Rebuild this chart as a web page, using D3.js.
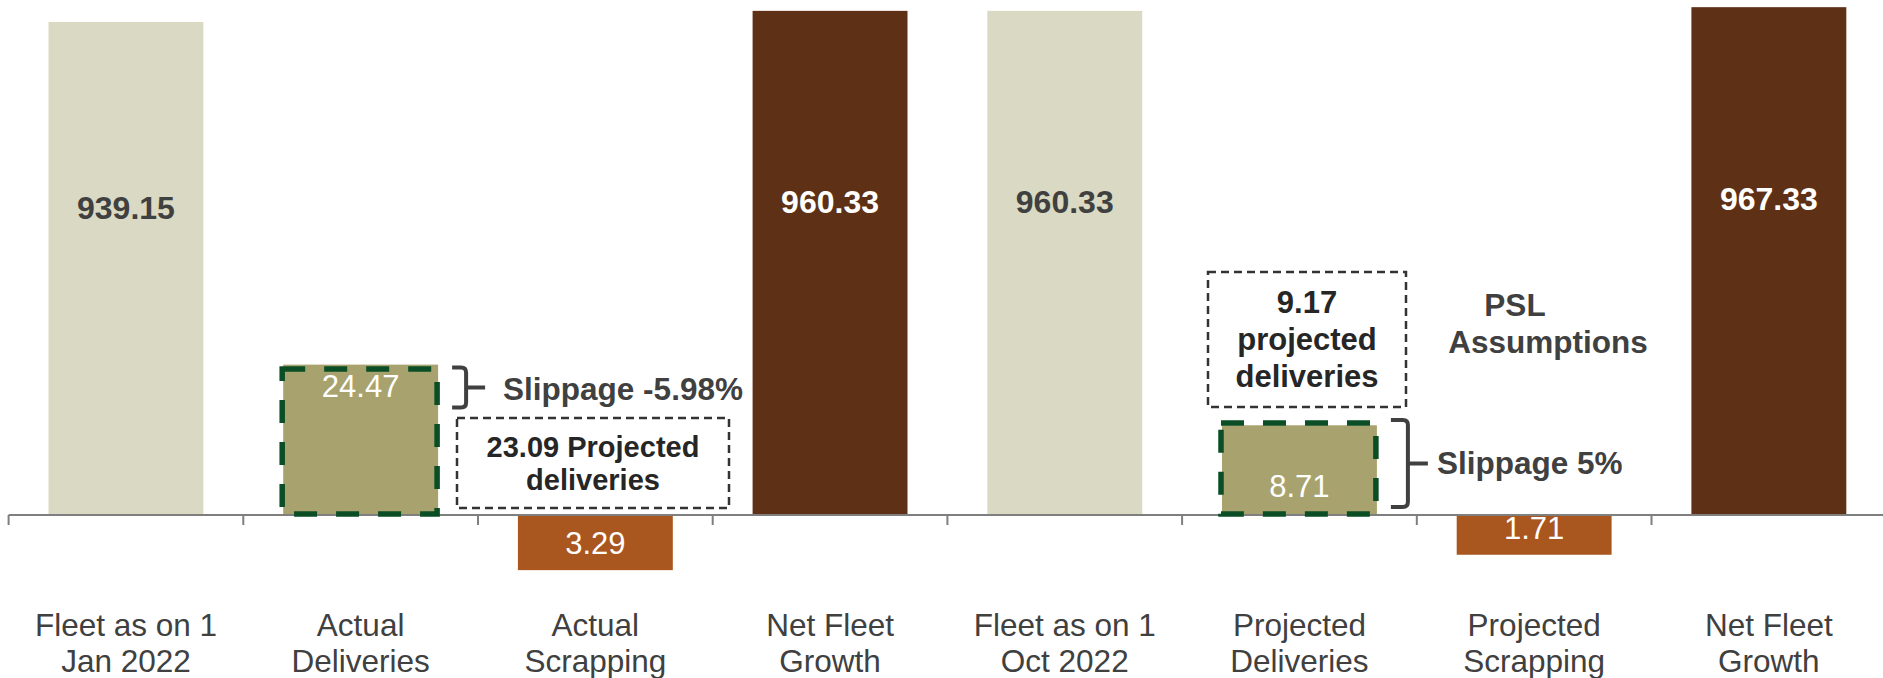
<!DOCTYPE html>
<html>
<head>
<meta charset="utf-8">
<script src="https://cdn.jsdelivr.net/npm/d3@7/dist/d3.min.js"></script>
<style>
  html, body { margin: 0; padding: 0; background: #ffffff; }
  svg { display: block; font-family: "Liberation Sans", Arial, Helvetica, sans-serif; }
</style>
</head>
<body>
<svg id="chart" width="1883" height="678"></svg>
<script>
// Fleet bridge: 1 Jan 2022 -> 1 Oct 2022 (actuals), then 1 Oct 2022 -> year end (projection)
const categories = [
  ["Fleet as on 1", "Jan 2022"],
  ["Actual", "Deliveries"],
  ["Actual", "Scrapping"],
  ["Net Fleet", "Growth"],
  ["Fleet as on 1", "Oct 2022"],
  ["Projected", "Deliveries"],
  ["Projected", "Scrapping"],
  ["Net Fleet", "Growth"]
];
const barKinds = ["opening", "delivery", "scrapping", "net", "opening", "delivery", "scrapping", "net"];
const values = [939.15, 24.47, -3.29, 960.33, 960.33, 8.71, -1.71, 967.33];
const projectedDeliveries = [null, 23.09, null, null, null, 9.17, null, null];
const slippageLabels = ["Slippage -5.98%", "Slippage 5%"];
const calloutLines = [
  ["23.09 Projected", "deliveries"],
  ["9.17", "projected", "deliveries"]
];
const noteLines = ["PSL", "Assumptions"];

const colors = {
  opening: "#dad9c3",
  delivery: "#a8a36e",
  scrapping: "#a9561f",
  net: "#5e3015"
};

const svg = d3.select("#chart");
const W = 1883;
const baseY = 515;

const x = d3.scaleBand()
  .domain(d3.range(categories.length))
  .range([8.6, 1886.2])
  .paddingInner(0.34)
  .paddingOuter(0.17);

// Fleet totals: linear from zero
const yTotal = d3.scaleLinear().domain([0, 981]).range([baseY, 0]);
// Flows (deliveries / scrapping) are tiny next to the fleet: square-root scale keeps them readable
const hFlow = d3.scaleSqrt().domain([0, 25]).range([0, 152]);

const rows = values.map((v, i) => {
  const kind = barKinds[i];
  const isTotal = kind === "opening" || kind === "net";
  let y0, y1;
  if (isTotal) { y0 = yTotal(v); y1 = baseY; }
  else if (v >= 0) { y0 = baseY - hFlow(v); y1 = baseY; }
  else { y0 = baseY; y1 = baseY + hFlow(-v); }
  return { i, v, kind, isTotal, y0, y1, proj: projectedDeliveries[i] };
});

// bars
svg.append("g").selectAll("rect")
  .data(rows)
  .join("rect")
  .attr("x", d => x(d.i))
  .attr("width", x.bandwidth())
  .attr("y", d => d.y0)
  .attr("height", d => d.y1 - d.y0)
  .attr("fill", d => colors[d.kind]);

// category axis with ticks between categories
const axis = svg.append("g");
axis.append("line")
  .attr("x1", x.range()[0]).attr("x2", W)
  .attr("y1", baseY).attr("y2", baseY)
  .attr("stroke", "#7f7f7f").attr("stroke-width", 2);
axis.selectAll("line.tick")
  .data(d3.range(categories.length + 1))
  .join("line")
  .attr("class", "tick")
  .attr("x1", k => x.range()[0] + k * x.step())
  .attr("x2", k => x.range()[0] + k * x.step())
  .attr("y1", baseY).attr("y2", baseY + 10)
  .attr("stroke", "#7f7f7f").attr("stroke-width", 2);

const catText = svg.append("g").selectAll("text")
  .data(categories)
  .join("text")
  .attr("text-anchor", "middle")
  .attr("font-size", 31.5)
  .attr("fill", "#404040");
catText.each(function (lines, i) {
  d3.select(this).selectAll("tspan")
    .data(lines)
    .join("tspan")
    .attr("x", x(i) + x.bandwidth() / 2)
    .attr("y", (l, j) => 636 + j * 36)
    .text(l => l);
});

// projected deliveries outlined with a dashed box
const projRows = rows.filter(d => d.proj != null);
svg.append("g").selectAll("rect")
  .data(projRows)
  .join("rect")
  .attr("x", d => x(d.i) - 1)
  .attr("width", x.bandwidth())
  .attr("y", d => baseY - hFlow(d.proj))
  .attr("height", d => hFlow(d.proj) - 1)
  .attr("fill", "none")
  .attr("stroke", "#0b4d25")
  .attr("stroke-width", 5.5)
  .attr("stroke-dasharray", "23,19");

// value labels
svg.append("g").selectAll("text")
  .data(rows)
  .join("text")
  .attr("x", d => x(d.i) + x.bandwidth() / 2)
  .attr("y", d => {
    if (d.isTotal) return d.y0 + 0.4 * (d.y1 - d.y0);
    if (d.v < 0) return d.y1 - 16;
    // actual above projection: label near the top; otherwise near the bottom
    return (d.proj != null && d.v > d.proj) ? d.y0 + 32 : d.y1 - 18;
  })
  .attr("text-anchor", "middle")
  .attr("font-size", d => d.isTotal ? 32 : 31)
  .attr("font-weight", d => d.isTotal ? "bold" : "normal")
  .attr("fill", d => d.kind === "opening" ? "#404040" : "#ffffff")
  .text(d => d3.format(".2f")(Math.abs(d.v)));

// curly brackets marking slippage
function bracket(xl, yTop, yBot, arm, tip) {
  const xv = xl + arm, r = 5, ym = (yTop + yBot) / 2;
  return `M${xl},${yTop} L${xv - r},${yTop} Q${xv},${yTop} ${xv},${yTop + r} L${xv},${ym} L${xv + tip},${ym}` +
         ` M${xv},${ym} L${xv},${yBot - r} Q${xv},${yBot} ${xv - r},${yBot} L${xl},${yBot}`;
}
const ann = svg.append("g");
const bracketStyle = sel => sel.attr("fill", "none").attr("stroke", "#404040")
  .attr("stroke-width", 4).attr("stroke-linecap", "butt").attr("stroke-linejoin", "round");

// first period: bracket from the top of actual deliveries
const r1 = rows[1];
const b1Top = r1.y0 + 3, b1Bot = b1Top + 40;
ann.append("path").attr("d", bracket(x(1) + x.bandwidth() + 14, b1Top, b1Bot, 14, 19)).call(bracketStyle);
ann.append("text")
  .attr("x", x(1) + x.bandwidth() + 65).attr("y", (b1Top + b1Bot) / 2 + 12)
  .attr("font-size", 31.5).attr("font-weight", "bold").attr("fill", "#404040")
  .text(slippageLabels[0]);

// second period: bracket spanning the projected deliveries
const r5 = rows[5];
const b2Top = baseY - hFlow(r5.proj) - 3, b2Bot = baseY - 8;
ann.append("path").attr("d", bracket(x(5) + x.bandwidth() + 14, b2Top, b2Bot, 17, 20)).call(bracketStyle);
ann.append("text")
  .attr("x", x(5) + x.bandwidth() + 60).attr("y", (b2Top + b2Bot) / 2 + 11)
  .attr("font-size", 31.5).attr("font-weight", "bold").attr("fill", "#404040")
  .text(slippageLabels[1]);

// callout boxes
const callouts = [
  { x0: 457, x1: 729, y0: 418, y1: 508, lines: calloutLines[0], first: 457, step: 33, size: 29 },
  { x0: 1208, x1: 1406, y0: 272, y1: 407, lines: calloutLines[1], first: 313, step: 37, size: 31 }
];
callouts.forEach(c => {
  ann.append("rect")
    .attr("x", c.x0).attr("y", c.y0)
    .attr("width", c.x1 - c.x0).attr("height", c.y1 - c.y0)
    .attr("fill", "#ffffff").attr("stroke", "#333333")
    .attr("stroke-width", 2.5).attr("stroke-dasharray", "8,5");
  const t = ann.append("text")
    .attr("text-anchor", "middle").attr("font-size", c.size)
    .attr("font-weight", "bold").attr("fill", "#262626");
  t.selectAll("tspan").data(c.lines).join("tspan")
    .attr("x", (c.x0 + c.x1) / 2)
    .attr("y", (l, j) => c.first + j * c.step)
    .text(l => l);
});

// assumption note
ann.append("text").attr("x", 1515).attr("y", 316).attr("text-anchor", "middle")
  .attr("font-size", 31.5).attr("font-weight", "bold").attr("fill", "#404040").text(noteLines[0]);
ann.append("text").attr("x", 1548).attr("y", 353).attr("text-anchor", "middle")
  .attr("font-size", 31.5).attr("font-weight", "bold").attr("fill", "#404040").text(noteLines[1]);
</script>
</body>
</html>
